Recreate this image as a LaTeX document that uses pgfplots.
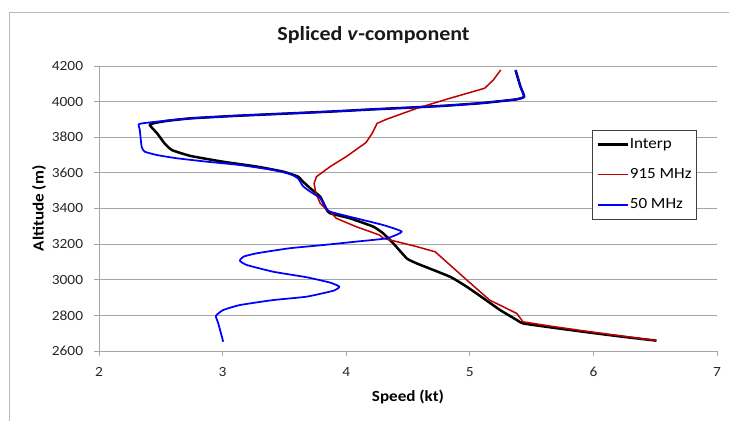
\documentclass[border=0pt]{standalone}
\usepackage{fontspec}
\setmainfont{Carlito}[FakeStretch=1.1]
\usepackage{pgfplots}
\pgfplotsset{compat=1.18}
\definecolor{excelred}{HTML}{C00000}
\definecolor{excelblue}{HTML}{0000FF}
\definecolor{gridgray}{HTML}{A6A6A6}
\begin{document}
\begin{tikzpicture}
\path[use as bounding box] (-99bp,-70bp) rectangle (630bp,351bp);
\draw[gray!55, line width=0.75bp] (-90bp,-75bp) -- (-90bp,339bp) -- (640bp,339bp);
\begin{axis}[
  at={(0bp,0bp)}, anchor=south west,
  scale only axis, width=618bp, height=285bp,
  xmin=2, xmax=7, ymin=2600, ymax=4200,
  xtick={2,3,4,5,6,7}, ytick={2600,2800,...,4200},
  axis lines*=left,
  axis line style={gridgray, line width=0.75bp},
  tick style={gridgray, line width=0.75bp},
  tick align=outside, major tick length=5bp,
  ymajorgrids, grid style={gridgray, line width=0.75bp},
  /pgf/number format/assume math mode=true,
  /pgf/number format/1000 sep={},
  ticklabel style={font=\fontsize{14bp}{16bp}\selectfont, text=black!85, inner sep=0pt},
  yticklabel style={anchor=east, xshift=-10.7bp},
  xticklabel style={anchor=north, yshift=-11bp},
  xlabel={Speed (kt)}, ylabel={Altitude (m)},
  label style={font=\fontsize{15.5bp}{18bp}\selectfont\bfseries},
  xlabel style={at={(axis description cs:0.5,-0.1614)}, anchor=center},
  ylabel style={at={(axis description cs:-0.0971,0.5)}, anchor=center},
  legend style={at={(rel axis cs:0.7977,0.7754)}, anchor=north west,
    draw=black!75, line width=0.75bp, fill=white,
    font=\fontsize{15.5bp}{18bp}\selectfont,
    inner xsep=4bp, inner ysep=7.5bp, row sep=16.5bp,
    nodes={inner sep=1bp}},
  legend cell align=left,
  legend image code/.code={\draw[#1] (0bp,0bp) -- (30bp,0bp);},
]
% Interp
\addplot[black, line width=2.5bp, line join=round, smooth, tension=0.25] coordinates {
(5.37,4177) (5.41,4084) (5.44,4028) (5.38,4013) (5.10,3992) (4.80,3977) (4.50,3966)
(4.20,3956) (3.90,3945) (3.55,3934) (3.10,3920) (2.74,3906) (2.55,3892) (2.45,3880) (2.41,3869)
(2.47,3822) (2.53,3766) (2.59,3728) (2.74,3695) (3.00,3663) (3.28,3635) (3.49,3607)
(3.61,3579) (3.65,3551) (3.71,3513) (3.79,3466) (3.84,3395) (3.87,3373) (4.03,3345)
(4.22,3298) (4.30,3260) (4.38,3205) (4.49,3120) (4.57,3092) (4.84,3017) (4.975,2961)
(5.11,2896) (5.245,2830) (5.38,2774) (5.43,2755) (5.65,2733) (5.92,2708) (6.19,2684) (6.51,2658)
};
\addlegendentry{Interp}
% 915 MHz
\addplot[excelred, line width=1.5bp, line join=round] coordinates {
(5.25,4178) (5.19,4121) (5.12,4075) (4.84,4019) (4.57,3962) (4.33,3902) (4.25,3878)
(4.21,3822) (4.16,3770) (4.00,3691) (3.87,3635) (3.76,3579) (3.74,3541) (3.755,3485)
(3.79,3429) (3.84,3395) (3.87,3382) (3.92,3345) (4.08,3298) (4.27,3251) (4.30,3233)
(4.57,3186) (4.72,3157) (4.975,2999) (5.16,2886) (5.38,2811) (5.43,2764) (5.65,2740)
(5.92,2713) (6.19,2688) (6.51,2658)
};
\addlegendentry{915 MHz}
% 50 MHz
\addplot[excelblue, line width=1.75bp, line join=round, smooth, tension=0.3] coordinates {
(5.37,4177) (5.41,4084) (5.44,4028) (5.38,4013) (5.10,3992) (4.80,3977) (4.50,3966)
(4.20,3956) (3.90,3945) (3.55,3934) (3.10,3920) (2.74,3906) (2.50,3890) (2.36,3879) (2.32,3872)
(2.33,3841) (2.345,3747) (2.37,3719) (2.47,3700) (2.63,3682) (2.87,3663) (3.14,3644)
(3.41,3616) (3.545,3594) (3.61,3569) (3.65,3526) (3.71,3494) (3.79,3457) (3.84,3400)
(3.87,3382) (4.08,3345) (4.30,3307) (4.45,3270) (4.33,3233) (4.08,3214) (3.815,3195)
(3.545,3177) (3.28,3149) (3.17,3130) (3.14,3107) (3.195,3083) (3.41,3045) (3.68,3014)
(3.87,2984) (3.945,2961) (3.90,2939) (3.68,2905) (3.41,2886) (3.14,2858) (3.005,2830)
(2.946,2797) (2.965,2755) (3.005,2652)
};
\addlegendentry{50 MHz}
\end{axis}
\node[font=\fontsize{20bp}{24bp}\selectfont\bfseries, text=black!90] at (274.5bp,316bp) {Spliced \textit{v}-component};
\end{tikzpicture}
\end{document}
